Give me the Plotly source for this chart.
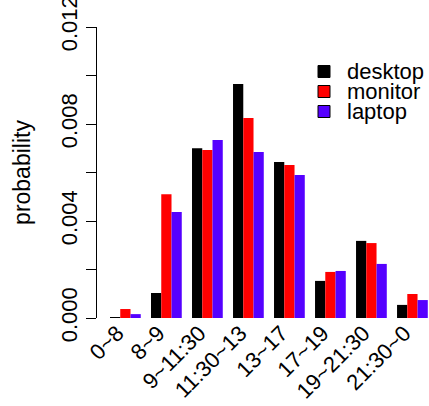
import plotly.graph_objects as go

categories = ["0~8", "8~9", "9~11:30", "11:30~13", "13~17", "17~19", "19~21:30", "21:30~0"]
desktop = [0.00002, 0.00103, 0.00700, 0.00965, 0.00643, 0.00153, 0.00318, 0.00054]
monitor = [0.00037, 0.00510, 0.00693, 0.00825, 0.00631, 0.00190, 0.00309, 0.00099]
laptop = [0.00016, 0.00437, 0.00734, 0.00685, 0.00590, 0.00194, 0.00223, 0.00074]
series_names = ["desktop", "monitor", "laptop"]
series_colors = ["#000000", "#FF0000", "#5500FF"]
y_tickvals = [0, 0.002, 0.004, 0.006, 0.008, 0.010, 0.012]
y_ticktext = ["0.000", "", "0.004", "", "0.008", "", "0.012"]

FONT = "Liberation Sans, Arial, sans-serif"
fig = go.Figure()
for name, vals, col in zip(series_names, [desktop, monitor, laptop], series_colors):
    fig.add_trace(go.Bar(x=categories, y=vals, name=name, marker=dict(color=col, line=dict(width=0)),
                         showlegend=False))

W, H = 429, 406
ml, mr, mt, mb = 97, 1, 27, H - 318
pw, ph = W - ml - mr, H - mt - mb


def px_to_paper(sx, sy):
    return (sx - ml) / pw, (mt + ph - sy) / ph


# manual legend (R-style, tight spacing)
shapes = []
annotations = []
for i, (name, col) in enumerate(zip(series_names, series_colors)):
    cy = 71.5 + 20 * i
    x0, y0 = px_to_paper(318, cy + 6)
    x1, y1 = px_to_paper(330, cy - 6)
    shapes.append(dict(type="rect", xref="paper", yref="paper", x0=x0, x1=x1, y0=y0, y1=y1,
                       fillcolor=col, line=dict(color="#000000", width=1)))
    tx, ty = px_to_paper(345, cy)
    annotations.append(dict(xref="paper", yref="paper", x=tx, y=ty,
                            text=name, showarrow=False, xanchor="left", yanchor="middle",
                            font=dict(family=FONT, size=22, color="#000000")))

fig.update_layout(
    width=W, height=H,
    margin=dict(l=ml, r=mr, t=mt, b=mb, pad=0, autoexpand=False),
    paper_bgcolor="white", plot_bgcolor="white",
    barmode="group", bargap=0.25, bargroupgap=0,
    font=dict(family=FONT, size=22, color="#000000"),
    shapes=shapes, annotations=annotations,
    xaxis=dict(type="category", range=[-0.692, 7.38], showline=False, ticks="",
               showgrid=False, zeroline=False, tickangle=-45, automargin=False,
               ticklabelshift=-8, ticklabelstandoff=-3, ticklabeloverflow="allow",
               tickfont=dict(family=FONT, size=22, color="#000000")),
    yaxis=dict(range=[0, 0.012], tickvals=y_tickvals, ticktext=y_ticktext,
               showline=True, linecolor="#000000", linewidth=1, automargin=False,
               ticks="outside", ticklen=10, tickcolor="#000000", tickwidth=1,
               tickangle=-90, showgrid=False, zeroline=False, ticklabeloverflow="allow",
               tickfont=dict(family=FONT, size=22, color="#000000"),
               title=dict(text="probability", font=dict(family=FONT, size=23, color="#000000"), standoff=20)),
)

fig.write_html("out.html", config={"displayModeBar": False},
               post_script="document.body.style.margin='0';document.body.style.overflow='hidden';")
